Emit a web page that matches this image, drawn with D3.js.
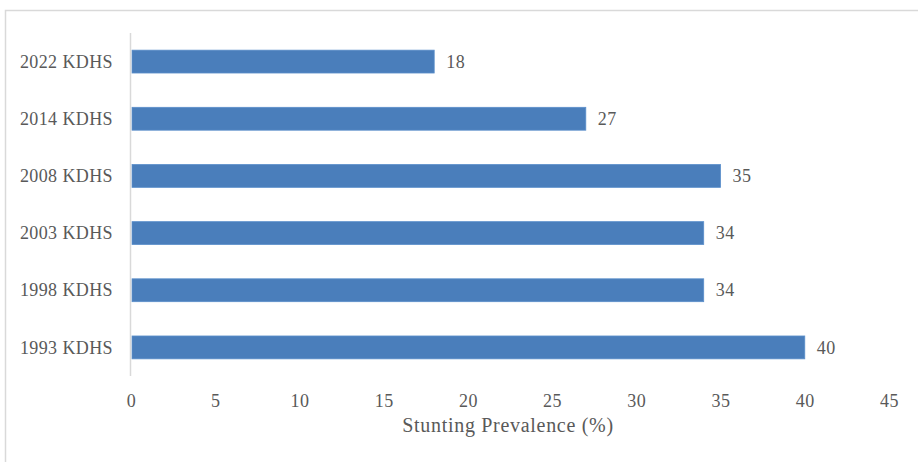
<!DOCTYPE html>
<html>
<head>
<meta charset="utf-8">
<script src="https://cdn.jsdelivr.net/npm/d3@7"></script>
<style>
  html, body { margin: 0; padding: 0; background: #fff; }
  svg { display: block; }
  text { font-family: "Liberation Serif", "Times New Roman", serif; fill: #595959; }
</style>
</head>
<body>
<svg id="chart" width="918" height="462"></svg>
<script>
// Survey rounds (top to bottom) and stunting prevalence (%)
const surveys = ["2022 KDHS", "2014 KDHS", "2008 KDHS", "2003 KDHS", "1998 KDHS", "1993 KDHS"];
const prevalence = [18, 27, 35, 34, 34, 40];
const xTicks = [0, 5, 10, 15, 20, 25, 30, 35, 40, 45];
const xTitle = "Stunting Prevalence (%)";

const svg = d3.select("#chart");
const W = 918, H = 462;

// chart frame
svg.append("rect")
  .attr("x", 5.5).attr("y", 10.5)
  .attr("width", W + 20).attr("height", H + 20)
  .attr("fill", "#fff").attr("stroke", "#d9d9d9").attr("stroke-width", 1.5);

const plot = { left: 131, right: 889, top: 33, bottom: 376 };

const x = d3.scaleLinear().domain([0, 45]).range([plot.left, plot.right]);
const y = d3.scaleBand().domain(surveys).range([plot.top, plot.bottom]).paddingInner(0.6).paddingOuter(0.3);

const data = surveys.map((s, i) => ({ survey: s, value: prevalence[i] }));

// bars
svg.append("g").selectAll("rect")
  .data(data).join("rect")
  .attr("x", x(0) + 1)
  .attr("y", d => y(d.survey))
  .attr("width", d => x(d.value) - x(0) - 1)
  .attr("height", y.bandwidth())
  .attr("fill", "#4a7ebb")
  .attr("stroke", "#5b8fcb").attr("stroke-width", 0.8);

// category axis line
svg.append("line")
  .attr("x1", x(0) - 0.5).attr("x2", x(0) - 0.5)
  .attr("y1", plot.top).attr("y2", plot.bottom)
  .attr("stroke", "#d9d9d9").attr("stroke-width", 1.5);

// category labels
const yAxis = d3.axisLeft(y).tickSize(0).tickPadding(18);
const gy = svg.append("g").attr("transform", `translate(${x(0)},0)`).call(yAxis);
gy.select(".domain").remove();
gy.selectAll("text")
  .style("font-family", '"Liberation Serif", serif')
  .style("font-size", "18px").style("letter-spacing", "0.4px")
  .attr("fill", "#595959").attr("dy", "0.34em");

// value axis tick labels
const xAxis = d3.axisBottom(x).tickValues(xTicks).tickSize(0).tickPadding(0).tickFormat(d3.format("d"));
const gx = svg.append("g").attr("transform", `translate(0,${plot.bottom})`).call(xAxis);
gx.select(".domain").remove();
gx.selectAll("text")
  .style("font-family", '"Liberation Serif", serif')
  .style("font-size", "18px").style("letter-spacing", "0.5px")
  .attr("fill", "#595959").attr("y", 25).attr("dy", "0.34em");

// data labels
svg.append("g").selectAll("text")
  .data(data).join("text")
  .attr("x", d => x(d.value) + 12)
  .attr("y", d => y(d.survey) + y.bandwidth() / 2)
  .attr("dy", "0.34em")
  .style("font-size", "18px").style("letter-spacing", "0.5px")
  .attr("fill", "#404040")
  .text(d => d3.format("d")(d.value));

// axis title
svg.append("text")
  .attr("x", (plot.left + plot.right) / 2 - 2)
  .attr("y", 432)
  .attr("text-anchor", "middle")
  .style("font-size", "20px").style("letter-spacing", "0.7px")
  .attr("fill", "#595959")
  .text(xTitle);
</script>
</body>
</html>
